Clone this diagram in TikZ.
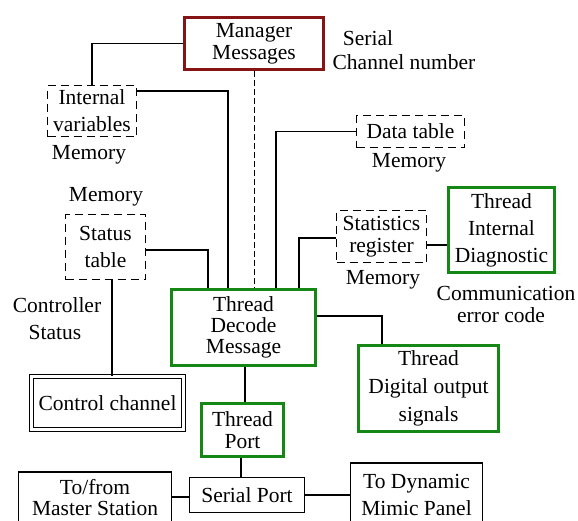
\documentclass[tikz,border=0pt]{standalone}
\usepackage{fontspec}
\setmainfont{Liberation Serif}
\newfontfamily\diagfont{Liberation Serif}
\definecolor{tgreen}{RGB}{20,135,20}
\definecolor{tred}{RGB}{135,20,20}
\begin{document}
\begin{tikzpicture}[x=1pt,y=-1pt,
  box/.style={draw, line width=1.5pt, rectangle, inner sep=0pt, align=center, font=\diagfont\fontsize{21.5}{22}\selectfont},
  wide/.style={font=\diagfont\fontsize{21.5}{27}\selectfont},
  gbox/.style={box, draw=tgreen, line width=3pt},
  rbox/.style={box, draw=tred, line width=3pt},
  dbox/.style={box, line width=1.7pt, dash pattern=on 8pt off 5pt},
  lbl/.style={inner sep=0pt, align=center, font=\diagfont\fontsize{21.5}{22}\selectfont},
  conn/.style={line width=1.5pt},
  dline/.style={line width=1pt, dash pattern=on 6pt off 3pt}]
\useasboundingbox (0,0) rectangle (578,520);
\clip (0,0) rectangle (578,520);

% boxes
\node[rbox, minimum width=139, minimum height=52] (manager) at (254,43.5) {Manager\\Messages};
\node[dbox, wide, minimum width=89, minimum height=51] (internal) at (92,111) {Internal\\variables};
\node[dbox, wide, minimum width=80, minimum height=65] (status) at (105.5,247) {Status\\table};
\node[dbox, minimum width=108, minimum height=32] (data) at (410.5,131.5) {Data table};
\node[dbox, minimum width=90, minimum height=52] (stats) at (381.5,236.5) {Statistics\\register};
\node[gbox, wide, minimum width=106, minimum height=85] (diag) at (501.5,230) {Thread\\Internal\\Diagnostic};
\node[gbox, font=\diagfont\fontsize{21.5}{21}\selectfont, minimum width=144, minimum height=76] (decode) at (243.5,327.5) {Thread\\Decode\\Message};
\node[gbox, font=\diagfont\fontsize{21.5}{28}\selectfont, minimum width=140, minimum height=86] (digital) at (428.5,388.5) {Thread\\Digital output\\signals};
\node[gbox, minimum width=82, minimum height=53] (port) at (242.5,430) {Thread\\Port};
\node[box, line width=1.2pt, double, double distance=2.8pt, minimum width=152, minimum height=53] (control) at (107.5,403) {Control channel};
\node[box, minimum width=115, minimum height=35] (serial) at (247,495) {Serial Port};
\node[box, font=\diagfont\fontsize{21.5}{21}\selectfont, minimum width=153, minimum height=52] (master) at (95,498) {To/from\\Master Station};
\node[box, wide, minimum width=132, minimum height=64] (mimic) at (416.5,495) {To Dynamic\\Mimic Panel};

% labels
\node[lbl] (lserial) at (368,38) {Serial};
\node[lbl] (lchannel) at (404,62) {Channel number};
\node[lbl] (mem1) at (89,155) {Memory};
\node[lbl] (mem2) at (106,197) {Memory};
\node[lbl] (mem3) at (409,163) {Memory};
\node[lbl] (mem4) at (383,280) {Memory};
\node[lbl] (lcomm) at (506,293) {Communication};
\node[lbl] (lerr) at (501,315) {error code};
\node[lbl] (lcontroller) at (57,305) {Controller};
\node[lbl] (lstatus) at (55,332) {Status};

% connectors
\draw[conn] (manager.west) -| (internal.north);
\draw[conn] (internal.east |- 0,91) -| (decode.north -| 228,0);
\draw[dline] (manager.south) -- (manager.south |- decode.north);
\draw[conn] (status.east |- 0,250) -| (decode.north -| 208,0);
\draw[conn] (data.west) -| (decode.north -| 276,0);
\draw[conn] (stats.west |- 0,238) -| (decode.north -| 299,0);
\draw[conn] (stats.east |- 0,245) -- (diag.west |- 0,245);
\draw[conn] (decode.east |- 0,316) -| (digital.north -| 382,0);
\draw[conn] (decode.south -| 245,0) -- (port.north -| 245,0);
\draw[conn] (port.south -| 241,0) -- (serial.north -| 241,0);
\draw[conn] (status.south -| 112,0) -- (control.north -| 112,0);
\draw[conn] (master.east |- 0,497) -- (serial.west |- 0,497);
\draw[conn] (serial.east) -- (mimic.west |- serial.east);
\end{tikzpicture}
\end{document}
